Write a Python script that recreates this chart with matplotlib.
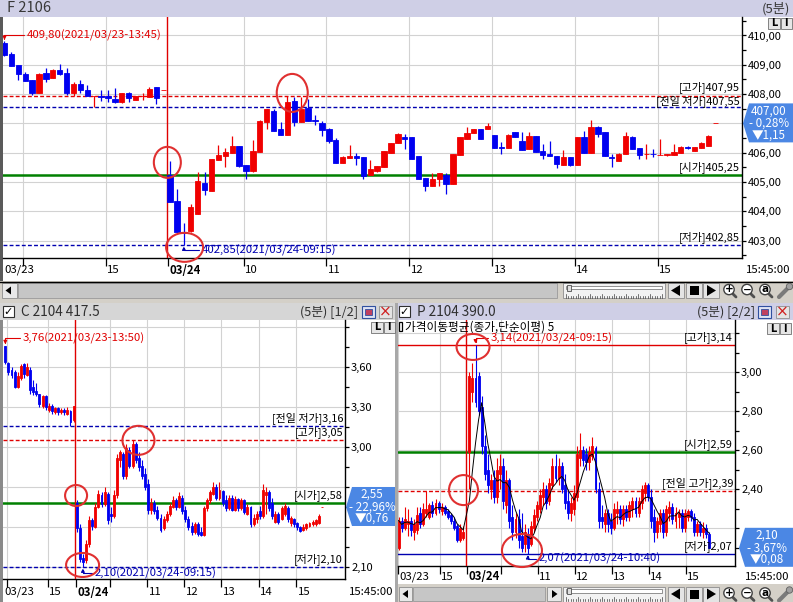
import numpy as np
import pandas as pd
import matplotlib
matplotlib.use("Agg")
import matplotlib.pyplot as plt
from matplotlib.patches import Rectangle, Polygon, Ellipse, Circle
from matplotlib.ticker import FixedLocator, FuncFormatter
from matplotlib.transforms import blended_transform_factory

plt.rcParams['font.family'] = ['Noto Sans CJK KR', 'DejaVu Sans']
plt.rcParams['axes.unicode_minus'] = False

# ---------------- data : 5-minute bars, index 0 = 03/23 13:45, 24 = first bar of 03/24 ----------------
F_idx = list(range(0, 104))
F_open = [409.75, 409.37, 408.99, 408.68, 408.48, 408.05, 408.73, 408.56, 408.82, 408.71,
          408.03, 408.35, 408.14, 407.92, 407.93, 407.94, 407.83, 407.72, 408.03, 407.80,
          407.93, 407.91, 408.23, 408.14,
          405.25, 404.35, 403.30, 403.33, 403.90, 404.95, 404.70, 405.75, 405.89, 405.99,
          406.23, 405.58, 405.37, 406.02, 407.06, 407.43, 406.80, 406.60, 407.76, 407.06,
          407.51, 407.10, 407.00, 406.80, 406.43, 405.66, 405.81, 405.89, 405.84, 405.23,
          405.36, 405.51, 406.00, 406.34, 406.55, 406.52, 405.89, 405.13, 404.87, 405.09,
          405.23, 404.92, 405.93, 406.46, 406.66, 406.81, 406.80, 406.61, 406.19, 406.17,
          406.69, 406.40, 406.12, 406.57, 406.06, 405.96, 405.89, 405.58, 405.86, 405.57,
          406.52, 406.00, 406.86, 406.70, 405.85, 405.72, 405.97, 406.52, 406.15, 405.94,
          405.95, 405.92, 405.92, 405.92, 406.00, 406.18, 406.06, 406.15, 406.23, 407.00]
F_high = [409.80, 409.42, 408.99, 408.77, 408.48, 408.72, 408.88, 408.85, 409.02, 408.88,
          408.42, 408.48, 408.31, 407.93, 408.14, 408.14, 408.20, 408.03, 408.08, 407.94,
          408.03, 408.25, 408.23, 408.15,
          405.72, 404.75, 403.60, 404.25, 405.35, 405.35, 405.78, 406.26, 406.15, 406.57,
          406.23, 405.58, 406.43, 407.10, 407.49, 407.49, 407.06, 407.95, 407.91, 407.91,
          407.82, 407.29, 407.09, 406.83, 406.49, 405.90, 406.26, 406.00, 405.84, 405.74,
          405.55, 406.06, 406.34, 406.66, 406.65, 406.52, 405.89, 405.13, 405.32, 405.29,
          405.29, 405.95, 406.52, 406.86, 406.81, 406.81, 407.00, 406.61, 406.35, 406.65,
          406.69, 406.69, 406.69, 406.57, 406.29, 406.40, 405.89, 406.08, 405.86, 406.52,
          406.74, 407.11, 406.92, 406.70, 405.97, 406.00, 406.69, 406.57, 406.15, 406.29,
          406.12, 406.46, 405.96, 406.29, 406.23, 406.22, 406.18, 406.35, 406.60, 407.00]
F_low = [409.30, 408.95, 408.48, 408.44, 407.97, 408.05, 408.42, 408.56, 408.65, 407.97,
         407.94, 408.03, 407.92, 407.55, 407.76, 407.74, 407.71, 407.70, 407.74, 407.80,
         407.80, 407.91, 407.66, 408.14,
         404.33, 403.30, 402.85, 403.30, 403.90, 404.55, 404.70, 405.75, 405.50, 405.99,
         405.50, 405.09, 405.35, 406.02, 406.80, 406.75, 406.60, 406.60, 406.91, 407.06,
         407.09, 406.95, 406.57, 406.32, 405.66, 405.66, 405.81, 405.58, 405.09, 405.23,
         405.33, 405.51, 406.00, 406.34, 406.12, 405.78, 405.09, 404.70, 404.87, 404.87,
         404.58, 404.92, 405.93, 406.46, 406.66, 406.46, 406.80, 406.17, 405.97, 406.17,
         406.54, 406.08, 406.12, 406.03, 405.77, 405.89, 405.47, 405.58, 405.55, 405.57,
         406.00, 406.00, 406.54, 405.89, 405.52, 405.72, 405.97, 406.12, 405.77, 405.77,
         405.86, 405.92, 405.88, 405.92, 406.00, 406.13, 406.06, 406.15, 406.23, 407.00]
F_close = [409.33, 408.96, 408.68, 408.45, 408.05, 408.70, 408.53, 408.82, 408.69, 408.03,
           408.35, 408.14, 407.92, 407.93, 407.91, 407.85, 407.74, 408.03, 407.86, 407.94,
           407.94, 408.16, 407.86, 408.15,
           404.33, 403.30, 403.25, 404.13, 405.03, 404.73, 405.77, 405.92, 406.03, 406.23,
           405.55, 405.37, 406.07, 407.09, 407.49, 406.75, 406.60, 407.74, 407.06, 407.48,
           407.09, 407.09, 406.78, 406.40, 405.66, 405.86, 405.89, 405.81, 405.22, 405.44,
           405.55, 406.06, 406.34, 406.63, 406.48, 405.78, 405.09, 404.87, 405.09, 405.29,
           404.92, 405.95, 406.52, 406.66, 406.81, 406.46, 406.92, 406.17, 406.17, 406.61,
           406.54, 406.08, 406.57, 406.03, 405.92, 405.89, 405.60, 405.85, 405.57, 406.52,
           406.00, 406.86, 406.63, 405.89, 405.83, 405.97, 406.57, 406.12, 405.92, 405.95,
           405.94, 405.93, 405.94, 406.04, 406.20, 406.17, 406.18, 406.32, 406.57, 407.00]

C_idx = list(range(1, 104))
C_open = [3.76, 3.63, 3.58, 3.56, 3.45, 3.52, 3.62, 3.54, 3.58, 3.45, 3.42, 3.40, 3.31, 3.38,
          3.28, 3.31, 3.26, 3.29, 3.26, 3.28, 3.25, 3.27, 3.20,
          2.58, 2.39, 2.17, 2.15, 2.27, 2.45, 2.40, 2.55, 2.64, 2.57, 2.65, 2.50, 2.48, 2.64,
          2.90, 2.95, 2.78, 2.98, 2.86, 3.02, 2.92, 2.86, 2.80, 2.72, 2.53, 2.58, 2.53, 2.47,
          2.39, 2.45, 2.50, 2.55, 2.60, 2.55, 2.62, 2.53, 2.46, 2.41, 2.36, 2.42, 2.36, 2.34,
          2.54, 2.60, 2.65, 2.70, 2.62, 2.67, 2.60, 2.54, 2.62, 2.53, 2.61, 2.54, 2.60, 2.50,
          2.55, 2.42, 2.46, 2.52, 2.48, 2.64, 2.66, 2.58, 2.44, 2.50, 2.46, 2.50, 2.54, 2.43,
          2.46, 2.43, 2.40, 2.38, 2.39, 2.41, 2.42, 2.42, 2.43, 2.55]
C_high = [3.76, 3.64, 3.60, 3.58, 3.56, 3.62, 3.63, 3.63, 3.60, 3.50, 3.48, 3.40, 3.39, 3.39,
          3.33, 3.32, 3.30, 3.30, 3.29, 3.29, 3.30, 3.28, 3.31,
          2.60, 2.42, 2.20, 2.30, 2.48, 2.47, 2.58, 2.68, 2.66, 2.70, 2.66, 2.55, 2.68, 2.95,
          2.98, 2.96, 3.02, 3.00, 3.05, 3.04, 2.96, 2.90, 2.84, 2.76, 2.62, 2.60, 2.56, 2.50,
          2.48, 2.52, 2.58, 2.63, 2.62, 2.66, 2.64, 2.56, 2.48, 2.44, 2.44, 2.44, 2.40, 2.56,
          2.62, 2.68, 2.74, 2.72, 2.74, 2.68, 2.64, 2.64, 2.64, 2.63, 2.62, 2.62, 2.61, 2.57,
          2.56, 2.50, 2.52, 2.56, 2.72, 2.70, 2.68, 2.62, 2.52, 2.51, 2.56, 2.58, 2.56, 2.48,
          2.47, 2.44, 2.41, 2.42, 2.43, 2.44, 2.45, 2.46, 2.50, 2.55]
C_low = [3.62, 3.54, 3.52, 3.44, 3.44, 3.50, 3.52, 3.53, 3.40, 3.39, 3.38, 3.30, 3.29, 3.28,
         3.26, 3.25, 3.25, 3.24, 3.25, 3.24, 3.24, 3.16, 3.19,
         2.36, 2.14, 2.10, 2.13, 2.25, 2.38, 2.39, 2.54, 2.55, 2.56, 2.42, 2.44, 2.47, 2.62,
         2.85, 2.76, 2.76, 2.84, 2.84, 2.88, 2.82, 2.76, 2.68, 2.50, 2.50, 2.50, 2.45, 2.36,
         2.38, 2.44, 2.48, 2.54, 2.53, 2.54, 2.50, 2.44, 2.38, 2.34, 2.35, 2.33, 2.33, 2.33,
         2.52, 2.58, 2.64, 2.60, 2.60, 2.56, 2.52, 2.53, 2.52, 2.52, 2.52, 2.53, 2.50, 2.49,
         2.40, 2.41, 2.43, 2.46, 2.47, 2.50, 2.52, 2.46, 2.43, 2.42, 2.45, 2.48, 2.44, 2.41,
         2.40, 2.38, 2.36, 2.37, 2.38, 2.40, 2.41, 2.41, 2.42, 2.55]
C_close = [3.64, 3.56, 3.54, 3.45, 3.53, 3.61, 3.55, 3.60, 3.43, 3.41, 3.40, 3.32, 3.38, 3.30,
           3.31, 3.27, 3.29, 3.26, 3.28, 3.26, 3.28, 3.19, 3.31,
           2.39, 2.16, 2.14, 2.27, 2.45, 2.41, 2.55, 2.65, 2.57, 2.66, 2.45, 2.48, 2.64, 2.92,
           2.96, 2.78, 2.99, 2.86, 3.02, 2.90, 2.85, 2.78, 2.70, 2.53, 2.58, 2.52, 2.47, 2.38,
           2.46, 2.50, 2.56, 2.60, 2.55, 2.63, 2.52, 2.46, 2.40, 2.36, 2.42, 2.35, 2.34, 2.54,
           2.60, 2.66, 2.70, 2.62, 2.68, 2.58, 2.54, 2.62, 2.53, 2.61, 2.54, 2.60, 2.51, 2.55,
           2.42, 2.47, 2.50, 2.48, 2.68, 2.66, 2.54, 2.48, 2.50, 2.44, 2.54, 2.56, 2.46, 2.47,
           2.42, 2.40, 2.37, 2.40, 2.42, 2.43, 2.44, 2.45, 2.48, 2.55]

P_idx = list(range(1, 23)) + list(range(24, 103))
P_open = [2.10, 2.24, 2.20, 2.22, 2.24, 2.18, 2.19, 2.28, 2.22, 2.28, 2.26, 2.32, 2.28, 2.33,
          2.29, 2.31, 2.29, 2.27, 2.24, 2.21, 2.14, 2.15,
          2.59, 2.90, 2.97, 2.98, 2.82, 2.62, 2.50, 2.40, 2.45, 2.36, 2.48, 2.52, 2.32, 2.45,
          2.26, 2.18, 2.25, 2.16, 2.12, 2.17, 2.12, 2.20, 2.26, 2.30, 2.36, 2.40, 2.34, 2.42,
          2.52, 2.46, 2.52, 2.42, 2.34, 2.28, 2.30, 2.36, 2.56, 2.60, 2.58, 2.54, 2.57, 2.61,
          2.40, 2.26, 2.22, 2.28, 2.24, 2.20, 2.28, 2.30, 2.25, 2.30, 2.26, 2.30, 2.34, 2.28,
          2.33, 2.38, 2.42, 2.36, 2.26, 2.18, 2.22, 2.28, 2.18, 2.28, 2.31, 2.24, 2.26, 2.28,
          2.20, 2.26, 2.29, 2.26, 2.18, 2.22, 2.18, 2.20, 2.17]
P_high = [2.26, 2.26, 2.31, 2.30, 2.26, 2.25, 2.31, 2.31, 2.33, 2.39, 2.33, 2.34, 2.35, 2.34,
          2.33, 2.32, 2.30, 2.28, 2.26, 2.22, 2.22, 2.21,
          3.00, 3.05, 3.14, 3.00, 2.88, 2.68, 2.58, 2.48, 2.50, 2.56, 2.58, 2.56, 2.50, 2.46,
          2.32, 2.28, 2.30, 2.28, 2.22, 2.20, 2.24, 2.30, 2.34, 2.40, 2.44, 2.42, 2.46, 2.56,
          2.58, 2.56, 2.54, 2.48, 2.40, 2.36, 2.42, 2.62, 2.69, 2.62, 2.61, 2.62, 2.67, 2.62,
          2.44, 2.32, 2.30, 2.30, 2.28, 2.33, 2.34, 2.32, 2.32, 2.32, 2.34, 2.36, 2.36, 2.36,
          2.42, 2.44, 2.43, 2.40, 2.30, 2.26, 2.30, 2.30, 2.32, 2.34, 2.33, 2.31, 2.30, 2.30,
          2.30, 2.30, 2.30, 2.28, 2.24, 2.24, 2.23, 2.22, 2.18]
P_low = [2.09, 2.18, 2.19, 2.16, 2.16, 2.14, 2.17, 2.20, 2.21, 2.26, 2.25, 2.26, 2.27, 2.28,
         2.27, 2.27, 2.25, 2.22, 2.19, 2.13, 2.13, 2.14,
         2.40, 2.85, 2.82, 2.78, 2.58, 2.45, 2.38, 2.35, 2.33, 2.33, 2.40, 2.30, 2.28, 2.20,
         2.14, 2.15, 2.10, 2.08, 2.08, 2.07, 2.11, 2.18, 2.24, 2.28, 2.32, 2.30, 2.32, 2.40,
         2.44, 2.42, 2.38, 2.30, 2.25, 2.24, 2.27, 2.34, 2.52, 2.52, 2.50, 2.50, 2.55, 2.38,
         2.20, 2.20, 2.18, 2.18, 2.17, 2.19, 2.22, 2.22, 2.21, 2.24, 2.24, 2.26, 2.26, 2.26,
         2.30, 2.34, 2.34, 2.20, 2.13, 2.15, 2.18, 2.15, 2.16, 2.24, 2.22, 2.20, 2.20, 2.18,
         2.18, 2.24, 2.24, 2.16, 2.16, 2.16, 2.15, 2.15, 2.10]
P_close = [2.24, 2.20, 2.25, 2.24, 2.19, 2.22, 2.27, 2.22, 2.30, 2.30, 2.32, 2.28, 2.33, 2.30,
           2.31, 2.28, 2.26, 2.24, 2.20, 2.14, 2.20, 2.18,
           2.98, 2.97, 2.85, 2.80, 2.62, 2.48, 2.42, 2.45, 2.36, 2.50, 2.52, 2.34, 2.45, 2.24,
           2.18, 2.25, 2.14, 2.10, 2.18, 2.10, 2.21, 2.27, 2.32, 2.37, 2.40, 2.33, 2.43, 2.52,
           2.46, 2.52, 2.40, 2.33, 2.28, 2.33, 2.38, 2.58, 2.60, 2.55, 2.54, 2.59, 2.62, 2.40,
           2.24, 2.24, 2.28, 2.22, 2.20, 2.30, 2.30, 2.25, 2.30, 2.26, 2.32, 2.34, 2.28, 2.34,
           2.40, 2.42, 2.36, 2.24, 2.18, 2.24, 2.28, 2.18, 2.30, 2.31, 2.25, 2.28, 2.28, 2.20,
           2.28, 2.29, 2.26, 2.18, 2.22, 2.18, 2.20, 2.17, 2.10]

# reference levels
F_day_high, F_prev_low, F_day_open, F_day_low = 407.95, 407.55, 405.25, 402.85
F_prev_close, F_last = 408.15, 407.00
C_prev_low, C_day_high, C_day_open, C_day_low = 3.16, 3.05, 2.58, 2.10
C_prev_close, C_last = 3.31, 2.55
P_day_high, P_day_open, P_prev_high, P_day_low = 3.14, 2.59, 2.39, 2.07
P_prev_close, P_last = 2.18, 2.10

time_labels = ['03/23', '15', '03/24', '10', '11', '12', '13', '14', '15']
F_tick_bars = [3, 15, 24, 35, 47, 59, 71, 83, 95]
C_tick_bars = [2, 15, 24, 35, 47, 59, 71, 83, 95]
P_tick_bars = [1.6, 15, 24, 35, 47, 59, 71, 83, 95]

# ---------------- style ----------------
RED, BLUE, GREEN = '#f00000', '#0000f0', '#008000'
DRED, DBLUE = '#e00000', '#0000b0'
GRID = '#d2d2d2'
LAV, GRAY = '#cfcfe6', '#d6d6d6'
W, H = 793, 602

def fmt(v, d=2):
    return f"{v:.{d}f}".replace('.', ',')

fig = plt.figure(figsize=(W / 100, H / 100), dpi=100)
fig.patch.set_facecolor('white')

bg = fig.add_axes([0, 0, 1, 1], zorder=0)
bg.set_xlim(0, W); bg.set_ylim(H, 0); bg.axis('off')

def rect(a, x0, y0, x1, y1, fc, ec='none', lw=0.8, z=1):
    a.add_patch(Rectangle((x0, y0), x1 - x0, y1 - y0, fc=fc, ec=ec, lw=lw, zorder=z))

def panel(x0, y0, x1, y1):
    ax = fig.add_axes([x0 / W, 1 - y1 / H, (x1 - x0) / W, (y1 - y0) / H], zorder=2)
    ax.set_facecolor('white')
    for s in ('top', 'left'):
        ax.spines[s].set_visible(False)
    for s in ('right', 'bottom'):
        ax.spines[s].set_color('black'); ax.spines[s].set_linewidth(1.0)
    ax.yaxis.tick_right()
    return ax

def candles(ax, idx, o, h, l, c, width, wick=0.8):
    idx = np.asarray(idx, float); o = np.asarray(o); h = np.asarray(h)
    l = np.asarray(l); c = np.asarray(c)
    col = np.where(c >= o, RED, BLUE)
    ax.vlines(idx, l, h, colors=col, lw=wick, zorder=4)
    ax.bar(idx, np.abs(c - o), width, bottom=np.minimum(o, c), color=col,
           edgecolor=col, linewidth=0.6, zorder=5)

def y_axis(ax, majors, minors, hide_above, covered, tol, size=8):
    # labels sitting under the current-price box are left out
    ax.yaxis.set_major_locator(FixedLocator(majors))
    ax.yaxis.set_minor_locator(FixedLocator(minors))
    ax.yaxis.set_major_formatter(FuncFormatter(
        lambda v, p: '' if (v > hide_above or abs(v - covered) < tol) else fmt(v)))
    ax.tick_params(axis='y', which='both', length=3.2, width=0.9, pad=1.2,
                   labelsize=size, colors='black', direction='out')
    ax.grid(True, axis='y', which='major', color=GRID, lw=0.8, zorder=0)

def x_axis(ax, bars, shift, labels, skip, label_dy):
    pos = [b - shift for b in bars]
    ax.set_xticks(pos)
    ax.set_xticklabels([])
    ax.tick_params(axis='x', length=6, width=0.9, direction='out', colors='black')
    for p, lab in zip(pos, labels):
        if lab != '03/24':
            ax.axvline(p, color=GRID, lw=0.8, zorder=0)
    tr = blended_transform_factory(ax.transData, ax.transAxes)
    for i, (p, lab) in enumerate(zip(pos, labels)):
        if lab in skip:
            continue
        if i == 0:
            ax.annotate(lab, xy=(0, 0), xycoords='axes fraction', xytext=(1, -label_dy),
                        textcoords='offset pixels', ha='left', va='center', fontsize=8.2,
                        annotation_clip=False)
        else:
            ax.annotate(lab, xy=(p, 0), xycoords=tr, xytext=(1.5, -label_dy),
                        textcoords='offset pixels', ha='left', va='center', fontsize=8.2,
                        fontweight='bold' if lab == '03/24' else 'normal',
                        annotation_clip=False)

def level(ax, y, color, ls, lw, text, lift=8):
    ax.axhline(y, color=color, ls=ls, lw=lw, zorder=2)
    if text:
        tr = blended_transform_factory(ax.transAxes, ax.transData)
        ax.annotate(text, xy=(1, y), xycoords=tr, xytext=(-2, lift), textcoords='offset pixels',
                    ha='right', va='center', fontsize=7.9, color='black', zorder=7,
                    annotation_clip=False)

def extreme(ax, k, price, text, color, dx, dy):
    ax.annotate(text, xy=(k, price), xytext=(dx, dy), textcoords='offset pixels',
                ha='left', va='center', fontsize=8.2, color=color, zorder=8,
                annotation_clip=False,
                arrowprops=dict(arrowstyle='-|>', color=color, lw=0.8, mutation_scale=5,
                                shrinkA=0, shrinkB=1,
                                connectionstyle='angle,angleA=0,angleB=90,rad=0'))

def ring(ax, k, p, wpx, hpx):
    (x0, x1), (y0, y1) = ax.get_xlim(), ax.get_ylim()
    bb = ax.get_position()
    w = wpx * (x1 - x0) / (bb.width * W)
    h = hpx * (y1 - y0) / (bb.height * H)
    ax.add_patch(Ellipse((k, p), w, h, fill=False, ec='#e03030', lw=1.5,
                         clip_on=False, zorder=9))

DASH = (0, (2.8, 1.6))

# ---------------- chrome ----------------
rect(bg, 0, 0, W, 17, LAV)
bg.text(7, 8.5, 'F 2106', fontsize=10.5, va='center', ha='left', color='#383838')
bg.text(790, 8.5, '(5분)', fontsize=9.5, va='center', ha='right', color='#383838')
rect(bg, 0, 17, 2.5, 281, '#5a5a5a')

def lbtn(x, y):
    for i, ch in enumerate('LI'):
        rect(bg, x + 12.5 * i, y, x + 12.5 * i + 11.5, y + 11, '#e6e6e6', ec='#707070', lw=0.6, z=3)
        bg.text(x + 12.5 * i + 5.8, y + 5.5, ch, fontsize=7, ha='center', va='center',
                zorder=4, fontweight='bold', family='DejaVu Sans')

def toolbar(y0):
    y1 = y0 + 15
    rect(bg, 563, y0, 665, y1, '#f2f2f2', ec='#8c8c8c', lw=0.6)
    rect(bg, 566, y0 + 2.5, 662, y0 + 6, 'white', ec='#808080', lw=0.6)
    rect(bg, 567, y0 + 1.5, 571, y0 + 7.5, '#dedede', ec='#505050', lw=0.6, z=2)
    for i, x in enumerate(np.arange(566, 663, 2.4)):
        bg.plot([x, x], [y1 - (4.5 if i % 5 == 0 else 2.5), y1 - 0.5], color='#404040', lw=0.5)
    for x0, kind in [(668, 'l'), (686, 's'), (703, 'r')]:
        rect(bg, x0, y0, x0 + 16, y1, '#e4e4e4', ec='#8c8c8c', lw=0.6)
        cx, cy = x0 + 8, y0 + 7.5
        if kind == 'l':
            bg.add_patch(Polygon([(cx - 5, cy), (cx + 4, cy - 5.5), (cx + 4, cy + 5.5)], fc='black'))
        elif kind == 'r':
            bg.add_patch(Polygon([(cx + 5, cy), (cx - 4, cy - 5.5), (cx - 4, cy + 5.5)], fc='black'))
        else:
            rect(bg, cx - 4.5, cy - 4.5, cx + 4.5, cy + 4.5, 'black', z=2)
    for cx, sym in [(729, '+'), (747, '−'), (765, 'a')]:
        bg.plot([cx + 3, cx + 7], [y0 + 10, y0 + 14], color='#505050', lw=2, solid_capstyle='round')
        bg.add_patch(Circle((cx, y0 + 6.5), 5.2, fc='white', ec='#404040', lw=1, zorder=3))
        bg.text(cx, y0 + 6.5, sym, fontsize=7.5, ha='center', va='center', zorder=4,
                family='DejaVu Sans', fontweight='bold')
    bg.plot([779, 789], [y1 - 1, y0 + 4], color='#7a7a7a', lw=3, solid_capstyle='round')
    bg.add_patch(Circle((789.5, y0 + 3.5), 3.2, fc='#a0a0a0', ec='#606060', lw=0.6, zorder=3))

# top scroll strip
rect(bg, 0, 281, W, 303, '#d4d0c8')
bg.plot([0, W], [281.5, 281.5], color='black', lw=1)
rect(bg, 2, 283, 17, 298, '#e8e8e8', ec='#8c8c8c', lw=0.6)
bg.add_patch(Polygon([(5.5, 290.5), (11, 286.5), (11, 294.5)], fc='black'))
rect(bg, 18, 283, 557, 298, '#c6c6c6', ec='#9a9a9a', lw=0.6)
toolbar(283)

# bottom-left title
rect(bg, 0, 303, 395, 320, GRAY)
rect(bg, 3, 306, 14, 317, 'white', ec='#303030', lw=0.8, z=2)
bg.text(8.5, 311.5, '✓', fontsize=8, ha='center', va='center', family='DejaVu Sans',
        fontweight='bold', zorder=3)
bg.text(21, 312, 'C 2104 417.5', fontsize=9.8, va='center', color='#303030')
bg.text(358, 312, '(5분) [1/2]', fontsize=9.2, va='center', ha='right', color='#303030')
rect(bg, 0, 320, 2.5, H, '#8a8a8a')

# divider and bottom-right title
rect(bg, 395, 303, 398, H, '#a8a8a8')
rect(bg, 398, 303, W, 320, LAV)
rect(bg, 399, 306, 410, 317, 'white', ec='#303030', lw=0.8, z=2)
bg.text(404.5, 311.5, '✓', fontsize=8, ha='center', va='center', family='DejaVu Sans',
        fontweight='bold', zorder=3)
bg.text(417, 312, 'P 2104 390.0', fontsize=9.8, va='center', color='#303030')
bg.text(755, 312, '(5분) [2/2]', fontsize=9.2, va='center', ha='right', color='#303030')

for x0 in (362, 758):
    rect(bg, x0, 306, x0 + 12.5, 318, '#dfe3f3', ec='#3050a0', lw=0.8, z=2)
    rect(bg, x0 + 3, 309, x0 + 9.5, 315, '#c04060', ec='#3050a0', lw=0.6, z=3)
for x0 in (379, 776):
    rect(bg, x0, 306, x0 + 13, 318, '#e4e4e4', ec='#909090', lw=0.6, z=2)
    bg.text(x0 + 6.5, 312, '×', fontsize=11, color='#d02020', ha='center', va='center',
            family='DejaVu Sans', zorder=3)

# bottom-right scroll strip
rect(bg, 398, 584, W, H, '#d4d0c8')
rect(bg, 399, 587, 412, 601, '#e8e8e8', ec='#8c8c8c', lw=0.6)
bg.add_patch(Polygon([(402.5, 594), (408, 590), (408, 598)], fc='black'))
rect(bg, 413, 587, 545, 601, '#c6c6c6', ec='#9a9a9a', lw=0.6)
rect(bg, 547, 587, 561, 601, '#e8e8e8', ec='#8c8c8c', lw=0.6)
bg.add_patch(Polygon([(557.5, 594), (552, 590), (552, 598)], fc='black'))
toolbar(586.5)

lbtn(768, 18)
lbtn(371, 322)
lbtn(767, 323)

bg.text(790, 270, '15:45:00', fontsize=8.2, ha='right', va='center')
bg.text(393, 592, '15:45:00', fontsize=8.2, ha='right', va='center')
bg.text(789, 577, '15:45:00', fontsize=8.2, ha='right', va='center')

# ---------------- F 2106 ----------------
axF = panel(3, 17, 742, 258)
axF.set_xlim(-0.217, 106.88)
axF.set_ylim(402.406, 410.631)
y_axis(axF, np.arange(403, 411, 1.0), np.arange(402.5, 410.6, 0.5), 410.5, F_last, 0.7)
x_axis(axF, F_tick_bars, 0.35, time_labels, [], 12)
axF.axvline(23.6, color=DRED, lw=1.0, zorder=3)
level(axF, F_day_high, DRED, DASH, 1.0, f'[고가]{fmt(F_day_high)}', lift=9)
level(axF, F_prev_low, DBLUE, DASH, 1.0, f'[전일 저가]{fmt(F_prev_low)}', lift=6)
level(axF, F_day_open, GREEN, '-', 1.8, f'[시가]{fmt(F_day_open)}')
level(axF, F_day_low, DBLUE, DASH, 1.0, f'[저가]{fmt(F_day_low)}')
candles(axF, F_idx, F_open, F_high, F_low, F_close, 0.78, wick=0.9)
extreme(axF, F_idx[int(np.argmax(F_high))], max(F_high),
        f'{fmt(max(F_high))}(2021/03/23-13:45)', DRED, 22, 6.5)
extreme(axF, F_idx[int(np.argmin(F_low))], min(F_low),
        f'{fmt(min(F_low))}(2021/03/24-09:15)', DBLUE, 18, -5)
ring(axF, 23.6, 405.67, 27, 31)
ring(axF, 26.1, 402.77, 37, 29)
ring(axF, 41.7, 408.04, 31, 38)

# ---------------- C 2104 ----------------
axC = panel(3, 320, 345, 579)
axC.set_xlim(0.258, 110.44)
axC.set_ylim(2.0098, 3.9527)
y_axis(axC, np.arange(2.10, 3.95, 0.30), np.arange(2.25, 3.80, 0.30), 3.8, C_last, 0.17)
x_axis(axC, C_tick_bars, 0.35, time_labels, ['10'], 13)
axC.axvline(23.3, color=DRED, lw=1.0, zorder=3)
level(axC, C_prev_low, DBLUE, DASH, 1.0, f'[전일 저가]{fmt(C_prev_low)}')
level(axC, C_day_high, DRED, DASH, 1.0, f'[고가]{fmt(C_day_high)}')
level(axC, C_day_open, GREEN, '-', 1.8, f'[시가]{fmt(C_day_open)}')
level(axC, C_day_low, DBLUE, DASH, 1.0, f'[저가]{fmt(C_day_low)}')
candles(axC, C_idx, C_open, C_high, C_low, C_close, 0.62, wick=0.8)
extreme(axC, C_idx[int(np.argmax(C_high))], max(C_high),
        f'{fmt(max(C_high))}(2021/03/23-13:50)', DRED, 17, 7.5)
extreme(axC, C_idx[int(np.argmin(C_low))], min(C_low),
        f'{fmt(min(C_low))}(2021/03/24-09:15)', DBLUE, 12, -6)
ring(axC, 43.9, 3.05, 32, 29)
ring(axC, 23.8, 2.636, 22, 21)
ring(axC, 25.9, 2.115, 33, 24)

# ---------------- P 2104 ----------------
axP = panel(398, 320, 735, 566)
axP.set_xlim(0.8125, 110.33)
axP.set_ylim(2.0067, 3.2682)
y_axis(axP, np.arange(2.20, 3.25, 0.20), np.arange(2.10, 3.25, 0.10), 3.1, P_last, 0.115)
x_axis(axP, P_tick_bars, 0.7, time_labels, ['10'], 11)
axP.axvline(22.8, color=DRED, lw=1.0, zorder=3)
level(axP, P_day_high, DRED, '-', 1.0, f'[고가]{fmt(P_day_high)}')
level(axP, P_day_open, GREEN, '-', 1.8, f'[시가]{fmt(P_day_open)}')
level(axP, P_prev_high, DRED, DASH, 1.0, f'[전일 고가]{fmt(P_prev_high)}')
level(axP, P_day_low, DBLUE, '-', 1.0, f'[저가]{fmt(P_day_low)}')
candles(axP, P_idx, P_open, P_high, P_low, P_close, 0.62, wick=0.8)
P_ma5 = pd.Series(P_close).rolling(5, min_periods=1).mean()
axP.plot(P_idx, P_ma5, color='black', lw=0.7, zorder=6)
hi = int(np.argmax(P_high)); lo = int(np.argmin(P_low))
extreme(axP, P_idx[hi], P_high[hi], f'{fmt(P_high[hi])}(2021/03/24-09:15)', DRED, 15, 7)
extreme(axP, P_idx[lo], P_low[lo], f'{fmt(P_low[lo])}(2021/03/24-10:40)', DBLUE, 11, -5)
ring(axP, 25.2, 3.13, 33, 26)
ring(axP, 22.1, 2.396, 29, 30)
ring(axP, 41.1, 2.086, 40, 33)
axP.annotate('가격이동평균(종가,단순이평) 5', xy=(0, 1), xycoords='axes fraction',
             xytext=(7, -7), textcoords='offset pixels', ha='left', va='center',
             fontsize=8.4, color='black', zorder=8, annotation_clip=False)
axP.add_patch(Rectangle((0.002, 0.955), 0.011, 0.037, transform=axP.transAxes,
                        fc='white', ec='black', lw=0.9, zorder=8, clip_on=False))

# ---------------- current price boxes ----------------
fg = fig.add_axes([0, 0, 1, 1], zorder=6)
fg.set_xlim(0, W); fg.set_ylim(H, 0); fg.axis('off'); fg.patch.set_alpha(0)

def price_box(ax, last, prev, xt, xr, tx, d=2):
    py = H - ax.transData.transform((ax.get_xlim()[1], last))[1]
    chg = last - prev
    pct = chg / prev * 100
    fg.add_patch(Polygon([(xt, py), (xt + 6, py - 20), (xr, py - 20), (xr, py + 19),
                          (xt + 6, py + 19)], closed=True, fc='#4b87e4', ec='none'))
    sign = '-' if chg < 0 else '+'
    arrow = '▼' if chg < 0 else '▲'
    for dy, s in zip([-12.5, 0, 11.5],
                     [fmt(last, d), f'{sign} {fmt(abs(pct))}%', f'{arrow}{fmt(abs(chg))}']):
        fg.text(tx, py + dy, s, color='white', fontsize=8.4, ha='center', va='center')

price_box(axF, F_last, F_prev_close, 743, W, 769)
price_box(axC, C_last, C_prev_close, 346, 395, 372)
price_box(axP, P_last, P_prev_close, 739, W, 767)

fig.savefig('out.png', dpi=100)
